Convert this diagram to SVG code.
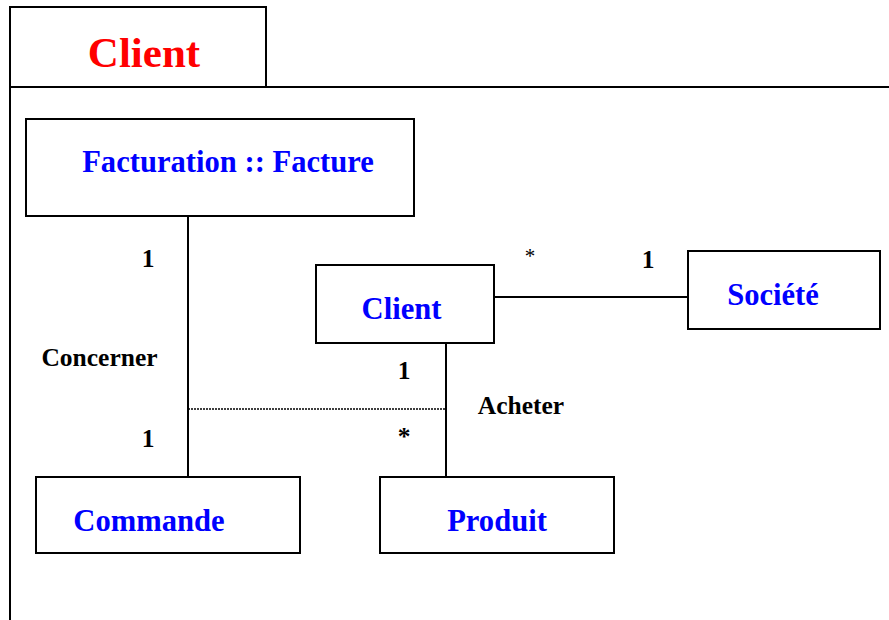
<svg xmlns="http://www.w3.org/2000/svg" width="889" height="620" viewBox="0 0 889 620">
<style>
.b{fill:#fff;stroke:#000;stroke-width:2}
.ln{stroke:#000;stroke-width:2;fill:none}
.n{font-family:"Liberation Serif","Times New Roman",serif;font-weight:bold;font-size:30.6px;fill:#0000ff;text-anchor:middle}
.l{font-family:"Liberation Serif","Times New Roman",serif;font-weight:bold;font-size:25.5px;fill:#000;text-anchor:middle}
</style>
<rect width="889" height="620" fill="#fff"/>
<g id="package">
<path class="ln" d="M10,620 V7 H266 V87 M10,87 H889"/>
<text x="144" y="67" style="font-family:'Liberation Serif','Times New Roman',serif;font-weight:bold;font-size:43px;fill:#ff0000;text-anchor:middle">Client</text>
</g>
<g id="connectors">
<line class="ln" x1="188" y1="216" x2="188" y2="477"/>
<line class="ln" x1="446" y1="343" x2="446" y2="477"/>
<line class="ln" x1="494" y1="297" x2="688" y2="297"/>
<line x1="188" y1="409" x2="446" y2="409" stroke="#000" stroke-width="1.6" stroke-dasharray="2 1"/>
<text class="l" x="148" y="267">1</text>
<text class="l" x="99.5" y="366">Concerner</text>
<text class="l" x="148" y="447">1</text>
<text class="l" x="404" y="379">1</text>
<text class="l" x="404" y="445">*</text>
<text class="l" x="521" y="414">Acheter</text>
<text x="530" y="263" style="font-family:'Liberation Serif','Times New Roman',serif;font-size:21px;fill:#000;text-anchor:middle">*</text>
<text class="l" x="648" y="268">1</text>
</g>
<g id="facture">
<rect class="b" x="26" y="119" width="388" height="97"/>
<text class="n" x="228" y="172">Facturation :: Facture</text>
</g>
<g id="client">
<rect class="b" x="316" y="265" width="178" height="78"/>
<text class="n" x="401.5" y="319">Client</text>
</g>
<g id="societe">
<rect class="b" x="688" y="251" width="192" height="78"/>
<text class="n" x="773" y="305">Société</text>
</g>
<g id="commande">
<rect class="b" x="36" y="477" width="264" height="76"/>
<text class="n" x="149" y="531">Commande</text>
</g>
<g id="produit">
<rect class="b" x="380" y="477" width="234" height="76"/>
<text class="n" x="497" y="531">Produit</text>
</g>
</svg>
